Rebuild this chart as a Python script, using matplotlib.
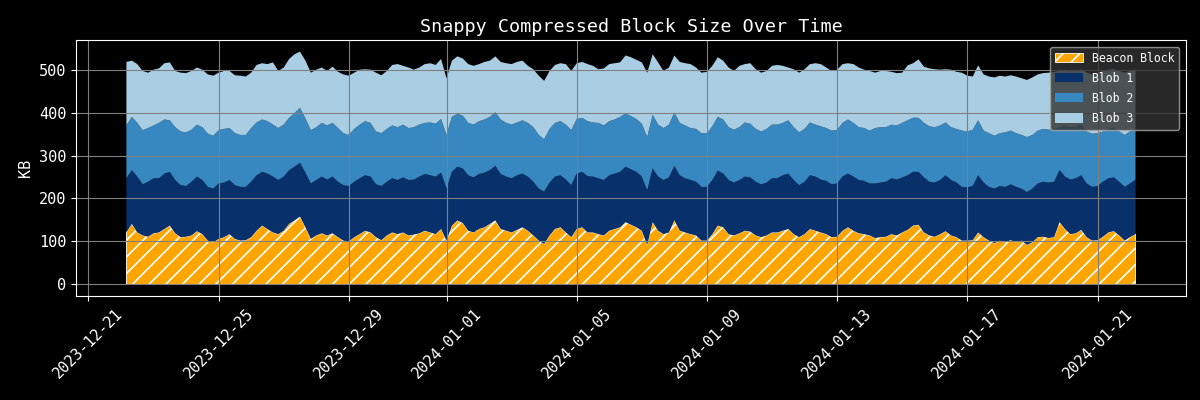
import matplotlib
matplotlib.use("Agg")
import matplotlib.pyplot as plt
import pandas as pd

# Time axis: 4-hourly samples
start_time = "2023-12-22 04:00"
n_points = 187
step = "4h"

# Stack boundaries (KB)
# top of Beacon Block
beacon_top = [
    121,141,121,114,111,119,121,129,137,119, 110,111,114,124,117,102,98,106,110,117,
    106,102,103,110,125,137,129,121,117,125, 141,149,158,133,106,114,119,114,119,110,
    102,100,110,117,125,121,
    110,103,114,121,117,121,114,116,119,125, 121,117,129,102,137,149,143,125,121,129,
    133,141,149,129,125,121,127,133,125,114, 102,94,114,129,133,121,110,129,133,121,
    121,117,114,125,129,133,
    145,139,133,125,92,145,125,117,121,149, 125,121,117,114,102,102,117,137,133,117,
    114,119,125,123,114,110,114,121,121,125, 129,117,110,117,129,125,121,117,110,111,
    125,133,125,119,117,114,
    108,110,111,117,114,121,127,137,139,121, 114,111,117,124,114,110,102,102,103,121,
    110,102,96,102,98,103,98,102,92,98, 110,111,108,110,145,129,117,119,127,110,
    102,103,111,121,124,114,102,110,117,
]
# top of Blob 1 (Beacon + Blob 1)
blob1_top = [
    247,266,251,233,239,247,247,258,262,243, 231,229,239,251,243,227,223,235,237,243,
    231,227,227,239,254,262,258,251,243,251, 266,274,283,260,235,243,251,244,251,239,
    231,229,239,247,254,251,
    233,229,239,247,243,249,243,244,251,257, 254,251,260,223,262,274,270,254,249,257,
    260,266,276,257,251,247,254,258,251,239, 223,216,237,251,254,244,231,258,262,252,
    251,247,243,254,258,262,
    274,268,262,251,219,270,251,243,249,276, 254,247,243,239,227,227,243,265,258,243,
    237,243,251,249,239,233,237,247,247,254, 258,243,231,239,254,251,244,241,233,235,
    251,258,251,243,241,235,
    235,237,239,247,244,249,254,262,262,249, 239,237,243,254,243,237,227,226,229,254,
    237,227,223,229,227,233,227,223,215,223, 235,239,237,239,266,251,244,247,254,235,
    227,229,239,247,249,239,227,235,244,
]
# top of Blob 2 (Beacon + Blob 1 + Blob 2)
blob2_top = [
    370,390,376,359,364,370,376,384,382,366, 356,354,360,372,366,351,346,359,362,364,
    352,348,348,364,377,384,380,372,364,372, 388,399,411,386,359,366,376,370,376,364,
    352,348,362,372,380,376,
    356,352,362,370,366,372,364,366,372,376, 377,374,385,348,390,397,393,376,372,380,
    384,390,401,384,376,372,377,382,376,366, 348,338,362,376,380,372,359,385,388,380,
    377,376,370,380,384,390,
    398,392,385,374,343,395,372,364,372,400, 376,370,364,362,352,352,368,390,384,366,
    360,366,377,374,362,356,362,372,372,376, 382,366,354,362,377,372,368,364,358,360,
    376,384,376,366,364,358,
    364,366,366,372,370,376,382,388,388,376, 368,366,370,377,366,362,358,356,360,382,
    358,352,346,352,354,358,352,348,343,348, 358,362,360,362,366,368,366,366,372,356,
    351,352,356,362,364,356,348,356,362,
]
# top of Blob 3 (total)
blob3_top = [
    518,521,513,497,493,500,503,515,517,497, 493,492,497,505,500,489,486,493,497,497,
    487,486,484,493,511,515,513,517,497,505, 525,536,542,521,493,500,505,497,507,495,
    489,486,493,500,501,500,
    493,487,497,511,513,509,505,500,505,513, 515,511,525,480,521,531,526,513,509,513,
    518,521,531,518,515,513,518,521,509,501, 486,474,497,511,515,513,497,515,518,513,
    509,501,503,513,515,517,
    533,529,523,517,493,536,517,497,505,533, 518,515,513,505,493,495,509,529,521,505,
    497,509,513,515,501,493,497,509,511,509, 505,501,493,501,513,515,513,505,497,500,
    513,515,513,505,500,497,
    493,497,497,495,492,493,510,515,524,507, 503,501,500,501,500,495,493,486,484,510,
    489,484,482,486,484,487,484,480,476,482, 489,492,493,495,497,500,497,497,501,493,
    489,493,497,500,501,497,493,497,500,
]

labels = ["Beacon Block", "Blob 1", "Blob 2", "Blob 3"]
colors = ["#ffa500", "#08306b", "#3787c0", "#a9cee4"]

dates = pd.date_range(start_time, periods=n_points, freq=step)

plt.style.use("dark_background")
plt.rcParams["font.family"] = ["DejaVu Sans Mono"]
plt.rcParams["font.size"] = 11
plt.rcParams["hatch.linewidth"] = 1.2

fig, ax = plt.subplots(figsize=(12, 4), dpi=100)
fig.subplots_adjust(left=0.0633, right=0.9883, top=0.9, bottom=0.26)

zeros = [0] * n_points
ax.fill_between(dates, zeros, beacon_top, facecolor=colors[0], edgecolor="white",
                hatch="//", linewidth=0.6, label=labels[0])
ax.fill_between(dates, beacon_top, blob1_top, facecolor=colors[1], linewidth=0,
                label=labels[1])
ax.fill_between(dates, blob1_top, blob2_top, facecolor=colors[2], linewidth=0,
                label=labels[2])
ax.fill_between(dates, blob2_top, blob3_top, facecolor=colors[3], linewidth=0,
                label=labels[3])

ax.set_title("Snappy Compressed Block Size Over Time", fontsize=13.2)
ax.set_ylabel("KB")
ax.grid(True, color="#808080", linewidth=0.8)
for s in ax.spines.values():
    s.set_color("white")

plt.setp(ax.get_xticklabels(), rotation=45, ha="center")

leg = ax.legend(loc="upper right", fontsize=8.3, facecolor="#333333",
                edgecolor="#aaaaaa", framealpha=0.8, handlelength=2.4,
                handleheight=0.85, labelspacing=0.62, borderaxespad=0.6)

fig.savefig("out.png", dpi=100)
